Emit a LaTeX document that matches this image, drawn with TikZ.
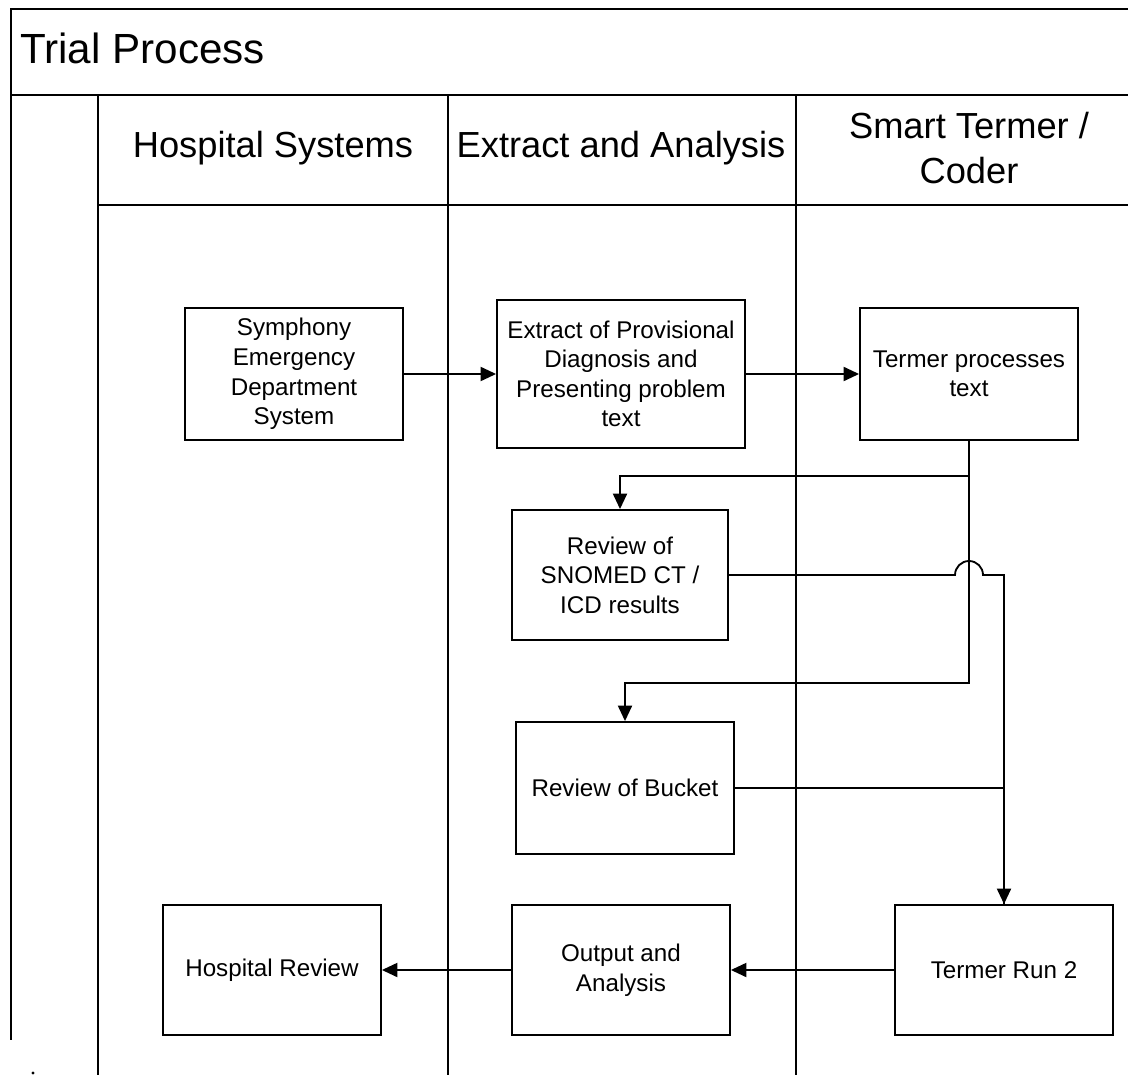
\documentclass[tikz,border=0pt]{standalone}
\usepackage{fontspec}
\setmainfont{Liberation Sans}
\usetikzlibrary{arrows.meta,calc}

\begin{document}
\begin{tikzpicture}[x=0.025cm, y=-0.025cm,
    frame/.style={line width=2pt},
    box/.style={draw, line width=1.3pt, align=center, minimum width=5.45cm, minimum height=3.3cm, inner sep=2pt, font=\fontsize{17.2}{21}\selectfont},
    flow/.style={line width=1.3pt, -{Triangle[length=11pt,width=10pt]}},
    lanehead/.style={font=\fontsize{25.8}{32}\selectfont, align=center, inner sep=0pt}]
    \useasboundingbox (0,0) rectangle (1128,1075);
    % pool and lanes
    \draw[frame] (1128,9) -- (11,9) -- (11,1040);
    \draw[frame] (11,95) -- (1128,95);
    \draw[frame] (98,205) -- (1128,205);
    \foreach \x in {98,448,796} \draw[frame] (\x,95) -- (\x,1075);
    \fill (33,1073) circle (1.6);
    % titles
    \node[anchor=west, inner sep=0pt, font=\fontsize{30}{36}\selectfont] (title) at (20,48) {Trial Process};
    \node[lanehead, anchor=base] (hs) at (273,158) {Hospital Systems};
    \node[lanehead, anchor=base] (ea) at (621,158) {Extract and Analysis};
    \node[lanehead] (st) at (969,148) {Smart Termer /\\Coder};
    % process boxes
    \node[box] (sym) at (294,374) {Symphony\\Emergency\\Department\\System};
    \node[box, minimum width=6.2cm, minimum height=3.7cm] (ext) at (621,374) {Extract of Provisional\\Diagnosis and\\Presenting problem\\text};
    \node[box] (term) at (969,374) {Termer processes\\text};
    \node[box, minimum width=5.4cm, minimum height=3.25cm] (snomed) at (620,575) {Review of\\SNOMED CT /\\ICD results};
    \node[box] (bucket) at (625,788) {Review of Bucket};
    \node[box, minimum height=3.25cm] (hosp) at (272,970) {Hospital Review};
    \node[box, minimum height=3.25cm] (out) at (621,970) {Output and\\Analysis};
    \node[box, minimum height=3.25cm] (run) at (1004,970) {Termer Run 2};
    % flows
    \draw[flow] (sym) -- (ext);
    \draw[flow] (ext) -- (term);
    \draw[flow] (term.south) -- ++(0,35) -| (snomed.north);
    \draw[flow] (term.south) -- ++(0,242) -| (bucket.north);
    \coordinate (jump) at (snomed.east -| term.south);
    \draw[flow] (snomed.east) -- ($(jump)+(-14,0)$) arc (180:360:14) -| (run.north);
    \draw[line width=1.3pt] (bucket.east) -| (run.north);
    \draw[flow] (run) -- (out);
    \draw[flow] (out) -- (hosp);
\end{tikzpicture}
\end{document}
